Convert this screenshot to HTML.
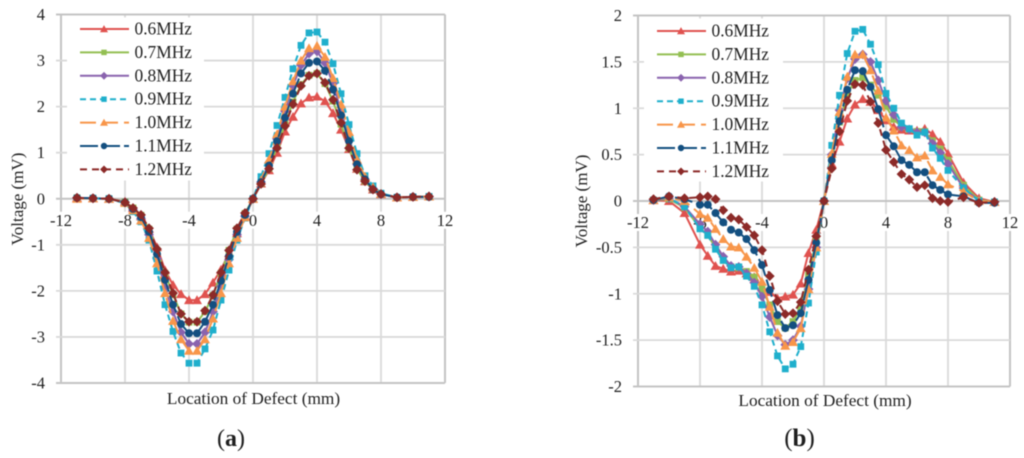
<!DOCTYPE html>
<html>
<head>
<meta charset="utf-8">
<title>Voltage vs location of defect</title>
<style>
html,body{margin:0;padding:0;background:#fff;width:1024px;height:458px;overflow:hidden}
svg{display:block;filter:blur(0.4px)}
text{font-family:"Liberation Serif",serif;fill:#1f1f1f}
</style>
</head>
<body>
<svg id="fig" width="1024" height="458" viewBox="0 0 1024 458" xmlns="http://www.w3.org/2000/svg">
<rect x="0" y="0" width="1024" height="458" fill="#fff"/>
<g id="chart-a"></g>
<g id="chart-b"></g>
<text x="253.5" y="404" font-size="17.3" text-anchor="middle">Location of Defect (mm)</text>
<text x="825" y="406" font-size="17.3" text-anchor="middle">Location of Defect (mm)</text>
<text x="0" y="0" font-size="17" text-anchor="middle" transform="translate(23,199) rotate(-90)">Voltage (mV)</text>
<text x="0" y="0" font-size="17" text-anchor="middle" transform="translate(587,201) rotate(-90)">Voltage (mV)</text>
<text x="231" y="446" font-size="24" text-anchor="middle">(<tspan font-weight="bold">a</tspan>)</text>
<text x="799.5" y="446" font-size="25" text-anchor="middle">(<tspan font-weight="bold">b</tspan>)</text>
</svg>
<script>
var locations = [-11,-10,-9,-8,-7.5,-7,-6.5,-6,-5.5,-5,-4.5,-4,-3.5,-3,-2.5,-2,-1.5,-1,-0.5,0,0.5,1,1.5,2,2.5,3,3.5,4,4.5,5,5.5,6,6.5,7,7.5,8,9,10,11];
var seriesNames = ['0.6MHz','0.7MHz','0.8MHz','0.9MHz','1.0MHz','1.1MHz','1.2MHz'];
var xTickLabels = [-12,-8,-4,0,4,8,12];
var yTicksA = [-4,-3,-2,-1,0,1,2,3,4];
var yTicksB = [-2,-1.5,-1,-0.5,0,0.5,1,1.5,2];

var a06 = [0.02,0.01,0,-0.06,-0.2,-0.38,-0.65,-1.05,-1.55,-1.87,-2.07,-2.2,-2.2,-2.07,-1.82,-1.54,-1.18,-0.75,-0.38,0,0.33,0.62,1,1.46,1.78,2.07,2.2,2.22,2.12,1.86,1.5,1.08,0.65,0.38,0.2,0.1,0.03,0.04,0.05];
var a07 = [0.02,0.01,0,-0.07,-0.2,-0.36,-0.66,-1.12,-1.62,-2.08,-2.5,-2.68,-2.68,-2.45,-2.1,-1.62,-1.12,-0.66,-0.32,0,0.33,0.66,1.12,1.62,2.1,2.48,2.68,2.72,2.5,2.12,1.62,1.1,0.65,0.38,0.2,0.1,0.03,0.04,0.05];
var a08 = [0.02,0.01,0,-0.08,-0.24,-0.43,-0.78,-1.3,-1.92,-2.45,-2.9,-3.15,-3.15,-2.9,-2.45,-1.9,-1.32,-0.78,-0.38,0,0.36,0.78,1.3,1.9,2.45,2.9,3.15,3.2,2.95,2.5,1.9,1.3,0.75,0.42,0.22,0.1,0.03,0.04,0.05];
var a09 = [0.01,0.01,0,-0.1,-0.28,-0.5,-0.9,-1.57,-2.3,-2.88,-3.35,-3.57,-3.57,-3.26,-2.85,-2.2,-1.55,-0.9,-0.42,0,0.48,0.98,1.59,2.2,2.82,3.33,3.6,3.62,3.4,2.93,2.28,1.61,0.98,0.5,0.28,0.12,0.03,0.04,0.05];
var a10 = [0,0.01,0,-0.09,-0.25,-0.47,-0.85,-1.4,-2.05,-2.65,-3.05,-3.3,-3.3,-3.05,-2.6,-2.05,-1.4,-0.85,-0.4,0,0.4,0.85,1.4,2,2.55,3,3.27,3.32,3.08,2.62,2.05,1.45,0.85,0.48,0.25,0.11,0.03,0.04,0.05];
var a11 = [0.02,0.01,0,-0.08,-0.22,-0.4,-0.72,-1.2,-1.76,-2.3,-2.72,-2.92,-2.92,-2.67,-2.3,-1.78,-1.25,-0.72,-0.35,0,0.36,0.72,1.25,1.76,2.28,2.72,2.95,2.98,2.78,2.37,1.81,1.25,0.75,0.42,0.2,0.1,0.03,0.04,0.04];
var a12 = [0.02,0.01,0,-0.08,-0.2,-0.35,-0.64,-1.09,-1.6,-2.05,-2.5,-2.67,-2.67,-2.43,-2.09,-1.6,-1.12,-0.64,-0.31,0,0.32,0.65,1.1,1.58,2.05,2.45,2.67,2.72,2.52,2.15,1.65,1.1,0.63,0.38,0.2,0.1,0.03,0.04,0.05];

var b06 = [0.01,0,-0.13,-0.47,-0.59,-0.7,-0.73,-0.76,-0.75,-0.78,-0.82,-0.93,-0.98,-1.05,-1.03,-1.01,-0.89,-0.56,-0.31,0,0.4,0.64,0.89,1.04,1.1,1.07,0.98,0.87,0.8,0.77,0.76,0.76,0.78,0.72,0.64,0.51,0.2,0.03,-0.01];
var b07 = [0.01,0.02,-0.07,-0.29,-0.37,-0.5,-0.64,-0.71,-0.72,-0.76,-0.82,-0.95,-1.12,-1.3,-1.37,-1.3,-1.15,-0.8,-0.42,0,0.45,0.85,1.15,1.3,1.33,1.25,1.14,1.02,0.88,0.8,0.77,0.75,0.75,0.65,0.56,0.44,0.17,0.01,-0.01];
var b08 = [0.01,0.03,-0.06,-0.25,-0.33,-0.47,-0.6,-0.7,-0.71,-0.78,-0.88,-1.03,-1.25,-1.45,-1.55,-1.5,-1.35,-0.95,-0.5,0,0.5,0.98,1.32,1.53,1.58,1.5,1.3,1.08,0.93,0.8,0.77,0.74,0.74,0.62,0.52,0.4,0.14,0,-0.01];
var b09 = [0.01,0.03,-0.06,-0.3,-0.37,-0.52,-0.64,-0.72,-0.71,-0.81,-0.92,-1.12,-1.41,-1.67,-1.81,-1.76,-1.57,-1.1,-0.55,0,0.6,1.14,1.59,1.83,1.85,1.69,1.47,1.16,1,0.84,0.78,0.71,0.74,0.57,0.46,0.33,0.14,0,-0.01];
var b10 = [0.01,0.04,0,-0.14,-0.18,-0.3,-0.41,-0.49,-0.5,-0.6,-0.72,-0.87,-1.14,-1.42,-1.56,-1.52,-1.37,-0.95,-0.5,0,0.51,0.96,1.34,1.58,1.58,1.41,1.19,0.9,0.76,0.6,0.55,0.47,0.49,0.33,0.26,0.18,0.1,0,-0.01];
var b11 = [0.01,0.05,0.02,-0.04,-0.04,-0.13,-0.23,-0.31,-0.34,-0.41,-0.53,-0.69,-0.96,-1.23,-1.37,-1.34,-1.21,-0.85,-0.45,0,0.44,0.86,1.2,1.41,1.4,1.23,0.99,0.71,0.59,0.44,0.39,0.31,0.31,0.17,0.12,0.07,0.05,-0.02,-0.02];
var b12 = [0.02,0.05,0.03,0.04,0.05,0.02,-0.1,-0.18,-0.2,-0.28,-0.37,-0.53,-0.81,-1.08,-1.22,-1.21,-1.09,-0.74,-0.38,0,0.35,0.75,1.08,1.26,1.25,1.07,0.84,0.55,0.42,0.29,0.23,0.15,0.17,0.03,0,-0.01,0.04,-0.02,-0.01];

var seriesColors = ['#E0524F','#93BF52','#8A63AE','#1FAFCC','#F8964A','#134F80','#8C2A28'];
var seriesDashes = ['','','','6 4','16 6','18 4','7 5'];
var seriesMarkers = ['triangle','square','diamond','square','triangle','circle','diamond'];

var SVGNS = 'http://www.w3.org/2000/svg';
function make(tag, attrs, parent) {
  var el = document.createElementNS(SVGNS, tag);
  for (var k in attrs) { el.setAttribute(k, attrs[k]); }
  parent.appendChild(el);
  return el;
}
function drawMarker(kind, cx, cy, color, scale, parent) {
  var el;
  if (kind === 'triangle') {
    el = make('polygon', {points:(cx-5*scale)+','+(cy+4*scale)+' '+(cx+5*scale)+','+(cy+4*scale)+' '+cx+','+(cy-4.8*scale), fill:color}, parent);
  } else if (kind === 'square') {
    el = make('rect', {x:cx-3.4*scale, y:cy-3.4*scale, width:6.8*scale, height:6.8*scale, fill:color}, parent);
  } else if (kind === 'diamond') {
    el = make('polygon', {points:(cx-4.9*scale)+','+cy+' '+cx+','+(cy-4.9*scale)+' '+(cx+4.9*scale)+','+cy+' '+cx+','+(cy+4.9*scale), fill:color}, parent);
  } else {
    el = make('circle', {cx:cx, cy:cy, r:4*scale, fill:color}, parent);
  }
  
  
  return el;
}
function drawChart(root, box, yTicks, series) {
  var xMin = -12, xMax = 12, yMin = yTicks[0], yMax = yTicks[yTicks.length - 1];
  function xPos(v) { return box.left + (v - xMin) / (xMax - xMin) * (box.right - box.left); }
  function yPos(v) { return box.bottom - (v - yMin) / (yMax - yMin) * (box.bottom - box.top); }
  var i, j, line, label, bg;

  xTickLabels.forEach(function (t) {
    var edge = (t === xMin || t === xMax);
    line = make('line', {x1:xPos(t), x2:xPos(t), y1:box.top, y2:box.bottom, stroke:edge ? '#C4C4C4' : '#DADADA', 'stroke-width':edge ? 2 : 1.8}, root);
    
    
  });
  yTicks.forEach(function (t) {
    var edge = (t === yMin || t === yMax || t === 0);
    line = make('line', {x1:box.left - 5, x2:box.right, y1:yPos(t), y2:yPos(t), stroke:edge ? '#C4C4C4' : '#DADADA', 'stroke-width':edge ? 2 : 1.8}, root);
    
    
    label = make('text', {x:box.left - 16, y:yPos(t) + 5.5, 'font-size':16.5, 'text-anchor':'end'}, root);
    label.textContent = String(t);
    
    
  });

  bg = make('rect', {x:box.legendLeft, y:box.top + 3, width:box.legendWidth, height:box.legendHeight, fill:'#fff'}, root);
  
  

  xTickLabels.forEach(function (t) {
    var w = String(t).length * 8 + 2;
    bg = make('rect', {x:xPos(t) - w / 2, y:yPos(0) + 13, width:w, height:17, fill:'#fff'}, root);
    
    
    label = make('text', {x:xPos(t), y:yPos(0) + 27, 'font-size':16.5, 'text-anchor':'middle'}, root);
    label.textContent = String(t);
    
    
  });

  for (i = 0; i < series.length; i++) {
    var g = make('g', {}, root);
    
    
    var pts = [];
    for (j = 0; j < locations.length; j++) {
      pts.push(xPos(locations[j]).toFixed(2) + ',' + yPos(series[i][j]).toFixed(2));
    }
    var poly = make('polyline', {points:pts.join(' '), fill:'none', stroke:seriesColors[i], 'stroke-width':2, 'stroke-dasharray':seriesDashes[i]}, g);
    
    
    for (j = 0; j < locations.length; j++) {
      drawMarker(seriesMarkers[i], xPos(locations[j]), yPos(series[i][j]), seriesColors[i], 1, g);
    }
  }

  for (i = 0; i < seriesNames.length; i++) {
    var rowY = box.legendTop + i * box.legendStep;
    var entry = make('g', {}, root);
    
    
    var key = make('line', {x1:box.legendKey, x2:box.legendKey + 49, y1:rowY, y2:rowY, stroke:seriesColors[i], 'stroke-width':2, 'stroke-dasharray':seriesDashes[i]}, entry);
    
    
    drawMarker(seriesMarkers[i], box.legendKey + 24, rowY, seriesColors[i], 0.8, entry);
    label = make('text', {x:box.legendKey + 54.5, y:rowY + 5.5, 'font-size':17.4}, entry);
    label.textContent = seriesNames[i];
    
    
  }
}
drawChart(document.getElementById('chart-a'),
  {left:61, right:445, top:14.5, bottom:383, legendLeft:67, legendWidth:137, legendHeight:163, legendTop:29, legendStep:23.4, legendKey:80},
  yTicksA, [a06,a07,a08,a09,a10,a11,a12]);
drawChart(document.getElementById('chart-b'),
  {left:638, right:1010, top:15.5, bottom:386.5, legendLeft:644, legendWidth:139, legendHeight:163, legendTop:31, legendStep:23.4, legendKey:657},
  yTicksB, [b06,b07,b08,b09,b10,b11,b12]);
</script>
</body>
</html>
